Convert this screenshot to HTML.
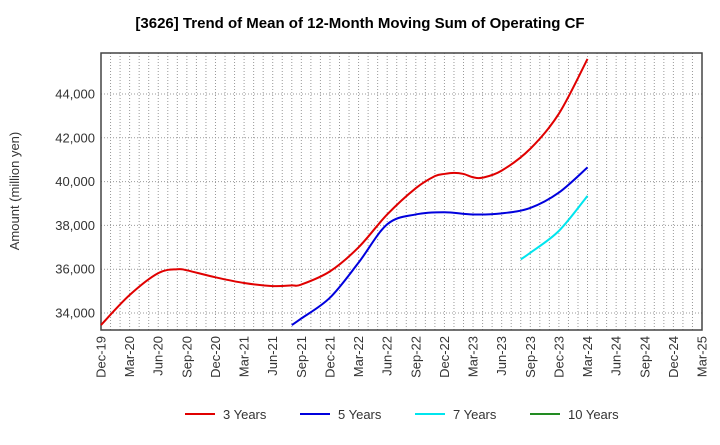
<!DOCTYPE html>
<html><head><meta charset="utf-8"><style>
body{margin:0;background:#fff;font-family:"Liberation Sans",sans-serif;}
</style></head><body>
<svg width="720" height="440" xmlns="http://www.w3.org/2000/svg" font-family="Liberation Sans, sans-serif">
<text x="360" y="28" text-anchor="middle" font-size="15" font-weight="bold">[3626]  Trend of Mean of 12-Month Moving Sum of Operating CF</text>
<text transform="translate(19,191) rotate(-90)" text-anchor="middle" font-size="13" fill="#333">Amount (million yen)</text>
<g id="grid"></g><g id="axes"></g><g id="series"></g><g id="legend"></g>
</svg>
<script>
const xTickLabels=["Dec-19","Mar-20","Jun-20","Sep-20","Dec-20","Mar-21","Jun-21","Sep-21","Dec-21","Mar-22","Jun-22","Sep-22","Dec-22","Mar-23","Jun-23","Sep-23","Dec-23","Mar-24","Jun-24","Sep-24","Dec-24","Mar-25"];
const yTicks=[34000,36000,38000,40000,42000,44000];
const months3=[0,3,6,8,9,12,15,18,20,21,24,27,30,33,35,36,37,38,39,40,42,45,48,51];
const values3=[33450,34820,35820,36000,35950,35630,35370,35230,35260,35300,35900,37000,38500,39700,40250,40350,40400,40350,40200,40180,40500,41500,43100,45600];
const months5=[20,21,24,27,30,33,36,39,42,45,48,51];
const values5=[33450,33750,34700,36300,38050,38500,38600,38500,38550,38800,39500,40650];
const months7=[44,45,48,51];
const values7=[36450,36750,37750,39350];
const months10=[];const values10=[];
const L=101,R=702,T=53,B=330,NM=63,Y0=33224,Y1=45872;
const X=m=>L+(R-L)*m/NM, Y=v=>B-(B-T)*(v-Y0)/(Y1-Y0);
const ns="http://www.w3.org/2000/svg";
function mk(p,t,a){const e=document.createElementNS(ns,t);for(const k in a)e.setAttribute(k,a[k]);document.getElementById(p).appendChild(e);return e;}
for(let m=1;m<NM;m++){const l=mk('grid','line',{x1:X(m),x2:X(m),y1:T,y2:B,stroke:'#999','stroke-dasharray':'1,2','stroke-width':1});

}
yTicks.forEach(v=>{const l=mk('grid','line',{x1:L,x2:R,y1:Y(v),y2:Y(v),stroke:'#999','stroke-dasharray':'1,2'});


const t=mk('axes','text',{x:L-6,y:Y(v)+4.5,'text-anchor':'end','font-size':13,fill:'#333'});t.textContent=v.toLocaleString('en-US');

});
xTickLabels.forEach((s,i)=>{const x=X(i*3);const t=mk('axes','text',{transform:`translate(${x+4.5},${B+6}) rotate(-90)`,'text-anchor':'end','font-size':13,fill:'#333'});t.textContent=s;

});
const fr=mk('axes','rect',{x:L,y:T,width:R-L,height:B-T,fill:'none',stroke:'#444','stroke-width':1.5});


function path(ms,vs){const p=ms.map((m,i)=>[X(m),Y(vs[i])]);if(!p.length)return'';let d=`M${p[0][0]},${p[0][1]}`;
for(let i=0;i<p.length-1;i++){const p0=p[i-1]||p[i],p1=p[i],p2=p[i+1],p3=p[i+2]||p2;
d+=`C${p1[0]+(p2[0]-p0[0])/6},${p1[1]+(p2[1]-p0[1])/6} ${p2[0]-(p3[0]-p1[0])/6},${p2[1]-(p3[1]-p1[1])/6} ${p2[0]},${p2[1]}`;}return d;}
const S=[["3 Years","#e00000",months3,values3],["5 Years","#0000dd",months5,values5],["7 Years","#00e5ee",months7,values7],["10 Years","#228b22",months10,values10]];
const lx=[185,300,415,530];
S.forEach((s,i)=>{if(s[2].length){const p=mk('series','path',{d:path(s[2],s[3]),fill:'none',stroke:s[1],'stroke-width':2});

}
const g=mk('legend','line',{x1:lx[i],x2:lx[i]+30,y1:414,y2:414,stroke:s[1],'stroke-width':2});


const t=mk('legend','text',{x:lx[i]+38,y:419,'font-size':13,fill:'#333'});t.textContent=s[0];

});
</script>
</body></html>
